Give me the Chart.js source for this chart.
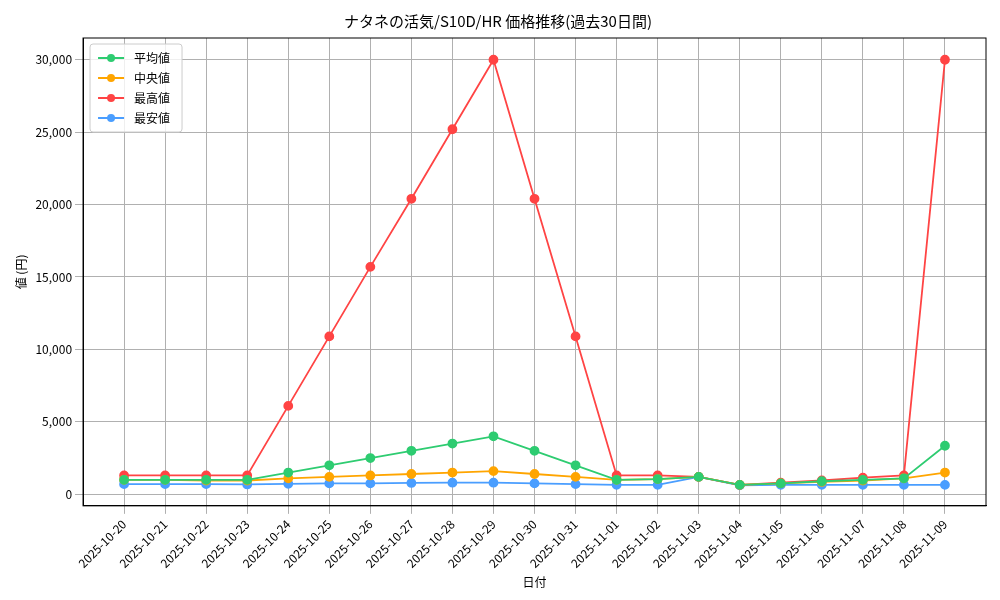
<!DOCTYPE html>
<html><head><meta charset="utf-8">
<script src="https://cdn.jsdelivr.net/npm/chart.js@4"></script>
<style>body{margin:0;background:#fff}#wrap{width:1000px;height:600px}</style>
</head><body><div id="wrap"><canvas id="c"></canvas></div>
<script>
const dates = ['2025-10-20','2025-10-21','2025-10-22','2025-10-23','2025-10-24','2025-10-25','2025-10-26','2025-10-27','2025-10-28','2025-10-29','2025-10-30','2025-10-31','2025-11-01','2025-11-02','2025-11-03','2025-11-04','2025-11-05','2025-11-06','2025-11-07','2025-11-08','2025-11-09'];
const avgVals = [1000,1000,1000,1000,1500,2000,2500,3000,3500,4000,3000,2000,1000,1050,1200,650,750,900,1000,1100,3350];
const medVals = [1000,1000,950,950,1100,1200,1300,1400,1500,1600,1400,1200,1000,1050,1200,650,750,850,950,1100,1500];
const maxVals = [1300,1300,1300,1300,6100,10900,15700,20400,25200,30000,20400,10900,1300,1300,1200,650,800,950,1150,1300,30000];
const minVals = [700,700,700,680,720,750,750,780,800,800,750,700,650,650,1200,620,650,650,650,650,650];
const yTicks = [0,5000,10000,15000,20000,25000,30000];

const font = "'Noto Sans CJK JP', 'DejaVu Sans Mono', monospace";
Chart.defaults.font.family = font;
Chart.defaults.color = '#000';

const ds = (label, vals, color) => ({
  label, data: vals.map((v, i) => ({x: i, y: v})), borderColor: color, backgroundColor: color,
  borderWidth: 1.8, pointRadius: 4, pointHoverRadius: 4, tension: 0
});

// legend inside the plot area + frame around it
const innerLegend = {
  id: 'innerLegend',
  afterDraw(chart) {
    const {ctx, chartArea} = chart;
    ctx.save();
    ctx.strokeStyle = '#000'; ctx.lineWidth = 1;
    ctx.strokeRect(chartArea.left, chartArea.top, chartArea.right - chartArea.left, chartArea.bottom - chartArea.top);
    const x = chartArea.left + 7, y = chartArea.top + 6;
    const items = chart.data.datasets;
    ctx.fillStyle = 'rgba(255,255,255,0.8)';
    ctx.strokeStyle = '#ccc';
    ctx.beginPath();
    ctx.roundRect(x, y, 92, items.length * 20 + 8, 3);
    ctx.fill(); ctx.stroke();
    ctx.font = '12px ' + font;
    ctx.textBaseline = 'middle';
    items.forEach((d, i) => {
      const cy = y + 14 + i * 20;
      ctx.strokeStyle = d.borderColor; ctx.lineWidth = 2;
      ctx.beginPath(); ctx.moveTo(x + 8, cy); ctx.lineTo(x + 34, cy); ctx.stroke();
      ctx.fillStyle = d.borderColor;
      ctx.beginPath(); ctx.arc(x + 21, cy, 4, 0, Math.PI * 2); ctx.fill();
      ctx.fillStyle = '#000';
      ctx.fillText(d.label, x + 44, cy);
    });
    ctx.restore();
  }
};

new Chart(document.getElementById('c'), {
  type: 'line',
  data: {
    datasets: [
      ds('平均値', avgVals, '#2ecc71'),
      ds('中央値', medVals, '#ffa500'),
      ds('最高値', maxVals, '#ff4444'),
      ds('最安値', minVals, '#4a9eff')
    ]
  },
  plugins: [innerLegend],
  options: {
    responsive: true, maintainAspectRatio: false, animation: false,
    layout: {padding: {left: 10, right: 14, top: 8, bottom: 8}},
    plugins: {
      legend: {display: false},
      tooltip: {enabled: false},
      title: {display: true, text: 'ナタネの活気/S10D/HR 価格推移(過去30日間)', font: {size: 15, weight: 'normal'}, padding: {top: 4, bottom: 8}}
    },
    scales: {
      x: {
        type: 'linear', min: -1, max: dates.length,
        grid: {color: '#b0b0b0'},
        border: {color: '#000'},
        afterBuildTicks: s => { s.ticks = dates.map((d, i) => ({value: i})); },
        ticks: {maxRotation: 45, minRotation: 45, autoSkip: false, font: {size: 12}, callback: v => dates[v]},
        title: {display: true, text: '日付', font: {size: 12}, padding: 2}
      },
      y: {
        min: -800, max: 31500,
        grid: {color: '#b0b0b0'},
        border: {color: '#000'},
        afterBuildTicks: s => { s.ticks = yTicks.map(v => ({value: v})); },
        ticks: {font: {size: 12}},
        title: {display: true, text: '値 (円)', font: {size: 12}}
      }
    }
  }
});
</script></body></html>
